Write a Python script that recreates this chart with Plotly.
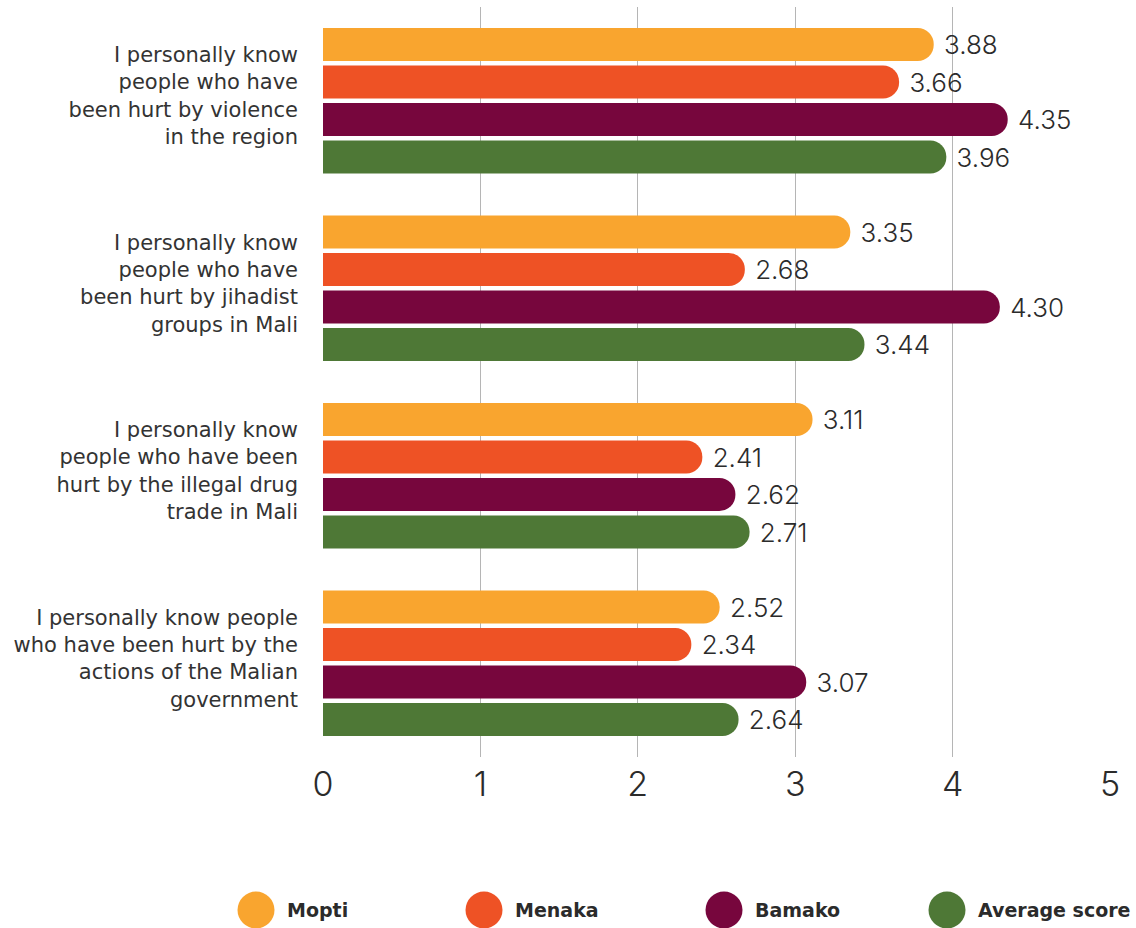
import plotly.graph_objects as go

# Survey statements (one group of bars per statement)
statements = [
    "I personally know<br>people who have<br>been hurt by violence<br>in the region",
    "I personally know<br>people who have<br>been hurt by jihadist<br>groups in Mali",
    "I personally know<br>people who have been<br>hurt by the illegal drug<br>trade in Mali",
    "I personally know people<br>who have been hurt by the<br>actions of the Malian<br>government",
]

# Mean agreement scores per region
mopti = [3.88, 3.35, 3.11, 2.52]
menaka = [3.66, 2.68, 2.41, 2.34]
bamako = [4.35, 4.30, 2.62, 3.07]
average_score = [3.96, 3.44, 2.71, 2.64]

series_names = ["Mopti", "Menaka", "Bamako", "Average score"]
series_values = [mopti, menaka, bamako, average_score]
series_colors = ["#F9A52F", "#EE5225", "#77063D", "#4E7836"]

x_ticks = [0, 1, 2, 3, 4, 5]

NUM_FONT = "Inter, Lato, sans-serif"
LABEL_FONT = "'DejaVu Sans', 'Open Sans', sans-serif"
TEXT = "#2b2b2b"

fig = go.Figure()
for name, vals, color in zip(series_names, series_values, series_colors):
    fig.add_trace(go.Bar(
        y=statements,
        x=vals,
        name=name,
        orientation="h",
        marker=dict(color=color, line=dict(width=0)),
        texttemplate="\u00a0%{x:.2f}",
        textposition="outside",
        cliponaxis=False,
        textfont=dict(family=NUM_FONT, size=26, color=TEXT, weight=300),
        showlegend=False,
    ))

# Plot area geometry in pixels (used to place the custom legend)
L, R, T, B = 323, 1110, 7, 757
W, H = R - L, B - T


def px_x(x):
    return (x - L) / W


def px_y(y):
    return (B - y) / H


legend_x = [256, 484, 724, 947]
legend_y = 910
shapes = []
annotations = []
for name, color, cx in zip(series_names, series_colors, legend_x):
    shapes.append(dict(
        type="circle", xref="paper", yref="paper",
        xsizemode="pixel", ysizemode="pixel",
        xanchor=px_x(cx), yanchor=px_y(legend_y),
        x0=-18.5, x1=18.5, y0=-18.5, y1=18.5,
        fillcolor=color, line=dict(width=0), layer="above",
    ))
    annotations.append(dict(
        xref="paper", yref="paper", x=px_x(cx + 29), y=px_y(legend_y),
        xanchor="left", yanchor="middle", showarrow=False,
        text=name,
        font=dict(family=LABEL_FONT, size=19, color=TEXT, weight=700),
    ))

fig.update_layout(
    width=1136, height=928,
    margin=dict(l=L, r=1136 - R, t=T, b=928 - B),
    paper_bgcolor="white", plot_bgcolor="white",
    barmode="group",
    bargap=0.2,
    bargroupgap=0.12,
    barcornerradius="50%",
    shapes=shapes,
    annotations=annotations,
    xaxis=dict(
        range=[0, 5],
        tickvals=x_ticks,
        showgrid=True, gridcolor="#b5b5b5", gridwidth=1,
        zeroline=False, showline=False,
        ticks="", ticklabelstandoff=4,
        tickfont=dict(family=NUM_FONT, size=34, color=TEXT, weight=300),
        fixedrange=True,
    ),
    yaxis=dict(
        autorange="reversed",
        showgrid=False, zeroline=False, showline=False,
        ticks="", ticklabelstandoff=24, ticklabelshift=5,
        tickfont=dict(family=LABEL_FONT, size=21, color="#333333"),
    ),
    showlegend=False,
)

fig.write_html("out.html")
